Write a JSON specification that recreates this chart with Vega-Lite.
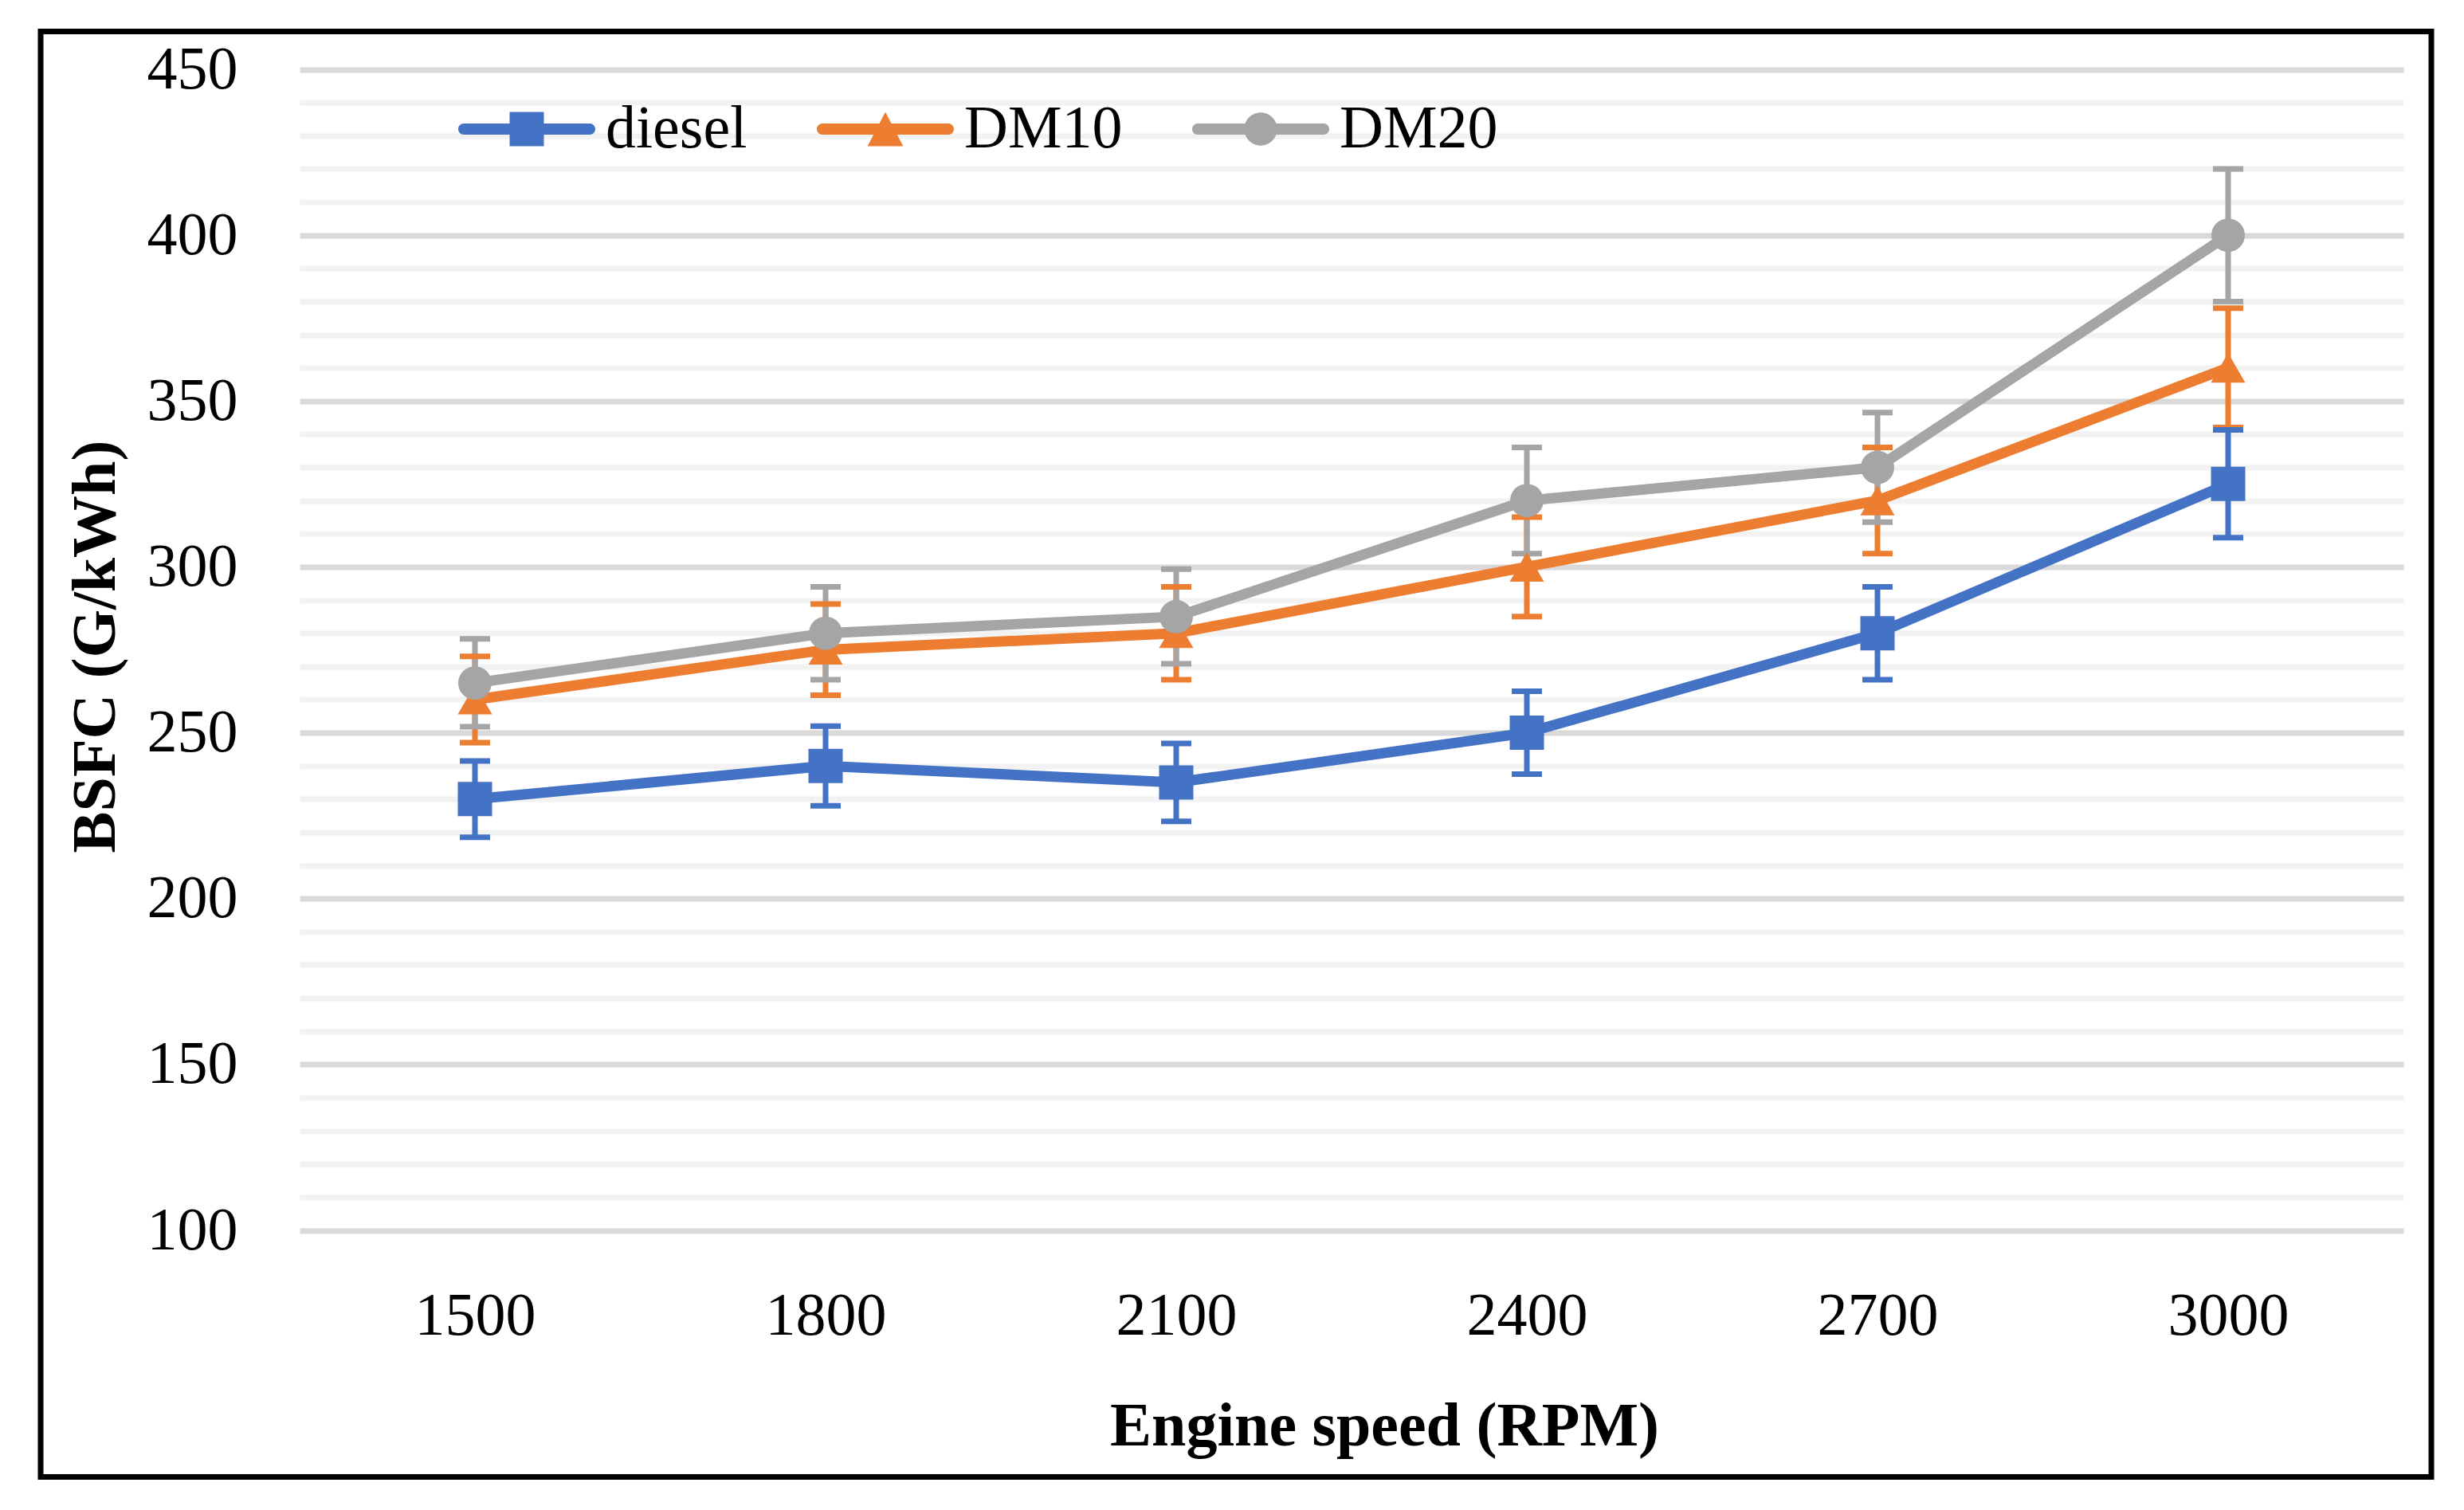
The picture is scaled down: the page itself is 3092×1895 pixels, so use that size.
{
  "$schema": "https://vega.github.io/schema/vega-lite/v6.json",
  "width": 3000,
  "height": 1814,
  "autosize": {"type": "none"},
  "padding": {"left": 51, "top": 39.5, "right": 41, "bottom": 41.5},
  "background": "white",
  "config": {
    "view": {"stroke": "black", "strokeWidth": 7, "fill": "white"},
    "font": "Liberation Serif"
  },
  "data": {
    "values": [
      {"rpm": 1500, "fuel": "diesel", "bsfc": 230, "lo": 218.5, "hi": 241.5},
      {"rpm": 1800, "fuel": "diesel", "bsfc": 240, "lo": 228, "hi": 252},
      {"rpm": 2100, "fuel": "diesel", "bsfc": 235, "lo": 223.3, "hi": 246.8},
      {"rpm": 2400, "fuel": "diesel", "bsfc": 250, "lo": 237.5, "hi": 262.5},
      {"rpm": 2700, "fuel": "diesel", "bsfc": 280, "lo": 266, "hi": 294},
      {"rpm": 3000, "fuel": "diesel", "bsfc": 325, "lo": 308.8, "hi": 341.3},
      {"rpm": 1500, "fuel": "DM10", "bsfc": 260, "lo": 247, "hi": 273},
      {"rpm": 1800, "fuel": "DM10", "bsfc": 275, "lo": 261.3, "hi": 288.8},
      {"rpm": 2100, "fuel": "DM10", "bsfc": 280, "lo": 266, "hi": 294},
      {"rpm": 2400, "fuel": "DM10", "bsfc": 300, "lo": 285, "hi": 315},
      {"rpm": 2700, "fuel": "DM10", "bsfc": 320, "lo": 304, "hi": 336},
      {"rpm": 3000, "fuel": "DM10", "bsfc": 360, "lo": 342, "hi": 378},
      {"rpm": 1500, "fuel": "DM20", "bsfc": 265, "lo": 251.8, "hi": 278.3},
      {"rpm": 1800, "fuel": "DM20", "bsfc": 280, "lo": 266, "hi": 294},
      {"rpm": 2100, "fuel": "DM20", "bsfc": 285, "lo": 270.8, "hi": 299.3},
      {"rpm": 2400, "fuel": "DM20", "bsfc": 320, "lo": 304, "hi": 336},
      {"rpm": 2700, "fuel": "DM20", "bsfc": 330, "lo": 313.5, "hi": 346.5},
      {"rpm": 3000, "fuel": "DM20", "bsfc": 400, "lo": 380, "hi": 420}
    ]
  },
  "encoding": {
    "x": {
      "field": "rpm",
      "type": "ordinal",
      "scale": {"type": "point", "padding": 0.5, "range": [325, 2965]},
      "axis": {
        "title": "Engine speed (RPM)",
        "labelAngle": 0,
        "domain": false,
        "ticks": false,
        "tickSize": 0,
        "grid": false,
        "offset": -202.5,
        "labelPadding": 0,
        "labelBaseline": "middle",
        "labelFont": "Liberation Serif",
        "labelFontSize": 76,
        "labelColor": "black",
        "titleFont": "Liberation Serif",
        "titleFontSize": 78,
        "titleFontWeight": "bold",
        "titleColor": "black",
        "titleX": 1686,
        "titleY": 162,
        "titleAlign": "center",
        "titleBaseline": "alphabetic"
      }
    },
    "color": {
      "field": "fuel",
      "type": "nominal",
      "scale": {"domain": ["diesel", "DM10", "DM20"], "range": ["#4472C4", "#ED7D31", "#A5A5A5"]},
      "legend": {
        "orient": "none",
        "legendX": 524,
        "legendY": 36.5,
        "direction": "horizontal",
        "title": null,
        "padding": 0,
        "symbolSize": 29584,
        "symbolStrokeWidth": 0,
        "labelOffset": 13,
        "labelLimit": 0,
        "columnPadding": 86,
        "labelFont": "Liberation Serif",
        "labelFontSize": 76,
        "labelColor": "black",
        "labelBaseline": "middle",
        "encode": {
          "symbols": {
            "update": {
              "shape": {"signal": "datum.value === 'diesel' ? 'M-0.919,-0.081L0.919,-0.081A0.081,0.081,0,0,1,0.919,0.081L-0.919,0.081A0.081,0.081,0,0,1,-0.919,-0.081ZM-0.25,-0.25L0.25,-0.25L0.25,0.25L-0.25,0.25Z' : datum.value === 'DM10' ? 'M-0.919,-0.081L0.919,-0.081A0.081,0.081,0,0,1,0.919,0.081L-0.919,0.081A0.081,0.081,0,0,1,-0.919,-0.081ZM0,-0.25L0.26,0.25L-0.26,0.25Z' : 'M-0.919,-0.081L0.919,-0.081A0.081,0.081,0,0,1,0.919,0.081L-0.919,0.081A0.081,0.081,0,0,1,-0.919,-0.081ZM-0.24,0A0.24,0.24,0,1,1,0.24,0A0.24,0.24,0,1,1,-0.24,0Z'"},
              "fill": {"signal": "scale('color', datum.value)"},
              "stroke": {"value": "transparent"},
              "strokeWidth": {"value": 0},
              "opacity": {"value": 1}
            }
          }
        }
      }
    }
  },
  "layer": [
    {
      "mark": {"type": "line", "strokeWidth": 13, "strokeJoin": "round", "strokeCap": "round"},
      "encoding": {
        "y": {
          "field": "bsfc",
          "type": "quantitative",
          "title": "BSFC (G/kWh)",
          "scale": {"domain": [100, 450], "nice": false, "zero": false, "range": [1504.5, 47.5]},
          "axis": {
            "values": [100, 110, 120, 130, 140, 150, 160, 170, 180, 190, 200, 210, 220, 230, 240, 250, 260, 270, 280, 290, 300, 310, 320, 330, 340, 350, 360, 370, 380, 390, 400, 410, 420, 430, 440, 450],
            "labelExpr": "datum.value % 50 === 0 ? datum.label : ''",
            "grid": true,
            "gridWidth": 7,
            "gridColor": {"condition": {"test": "datum.value % 50 === 0", "value": "#D9D9D9"}, "value": "#F2F2F2"},
            "domain": false,
            "ticks": false,
            "tickSize": 0,
            "offset": -247,
            "labelPadding": 0,
            "labelFont": "Liberation Serif",
            "labelFontSize": 76,
            "labelColor": "black",
            "labelBaseline": "middle",
            "titleFont": "Liberation Serif",
            "titleFontSize": 78,
            "titleFontWeight": "bold",
            "titleColor": "black",
            "titleAngle": -90,
            "titleX": -155,
            "titleY": 771.5,
            "titleAlign": "center",
            "titleBaseline": "alphabetic"
          }
        }
      }
    },
    {
      "mark": {"type": "rule", "strokeWidth": 7},
      "encoding": {
        "y": {"field": "lo", "type": "quantitative", "title": "BSFC (G/kWh)"},
        "y2": {"field": "hi"}
      }
    },
    {
      "mark": {"type": "tick", "size": 38, "thickness": 7, "opacity": 1},
      "encoding": {
        "y": {"field": "lo", "type": "quantitative", "title": "BSFC (G/kWh)"}
      }
    },
    {
      "mark": {"type": "tick", "size": 38, "thickness": 7, "opacity": 1},
      "encoding": {
        "y": {"field": "hi", "type": "quantitative", "title": "BSFC (G/kWh)"}
      }
    },
    {
      "transform": [{"filter": "datum.fuel === 'diesel'"}],
      "mark": {"type": "point", "shape": "square", "filled": true, "opacity": 1, "size": 1849},
      "encoding": {
        "y": {"field": "bsfc", "type": "quantitative", "title": "BSFC (G/kWh)"}
      }
    },
    {
      "transform": [{"filter": "datum.fuel === 'DM10'"}],
      "mark": {"type": "point", "shape": "triangle-up", "filled": true, "opacity": 1, "size": 1849},
      "encoding": {
        "y": {"field": "bsfc", "type": "quantitative", "title": "BSFC (G/kWh)"}
      }
    },
    {
      "transform": [{"filter": "datum.fuel === 'DM20'"}],
      "mark": {"type": "point", "shape": "circle", "filled": true, "opacity": 1, "size": 1764},
      "encoding": {
        "y": {"field": "bsfc", "type": "quantitative", "title": "BSFC (G/kWh)"}
      }
    }
  ]
}
